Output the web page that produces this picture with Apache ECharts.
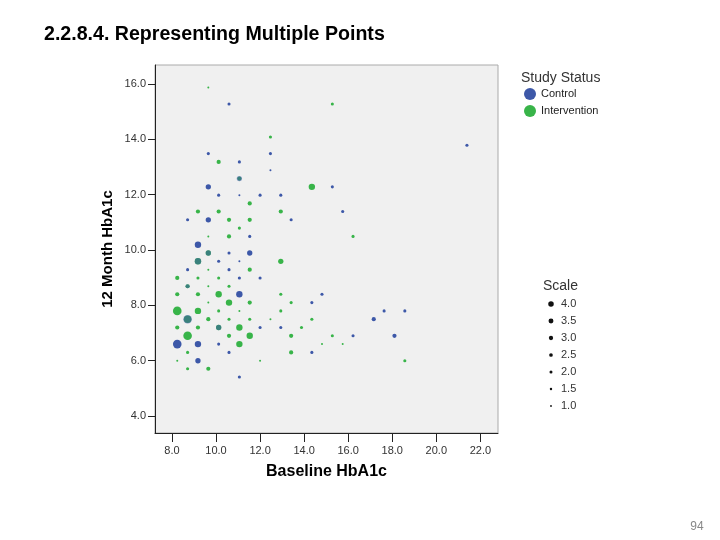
<!DOCTYPE html>
<html><head><meta charset="utf-8">
<script src="https://cdn.jsdelivr.net/npm/echarts@6/dist/echarts.min.js"></script>
<style>html,body{margin:0;padding:0;background:#fff}#c{width:720px;height:540px}</style>
</head><body><div id="c"></div>
<script>
// Tick labels
const xTicks = [8, 10, 12, 14, 16, 18, 20, 22];
const yTicks = [4, 6, 8, 10, 12, 14, 16];
const scaleLevels = [4.0, 3.5, 3.0, 2.5, 2.0, 1.5, 1.0];
const groups = ['Control', 'Intervention'];

// [Baseline HbA1c, 12 Month HbA1c, Scale]
const controlPoints = [
  [10.59,15.27,1.5],[9.65,13.48,1.5],[12.47,13.48,1.5],[11.06,13.18,1.5],[12.47,12.88,1],
  [11.06,12.58,2.5],[9.65,12.28,2.5],[15.28,12.28,1.5],[21.39,13.78,1.5],[10.12,11.98,1.5],
  [11.06,11.98,1],[12.00,11.98,1.5],[12.94,11.98,1.5],[15.75,11.39,1.5],[8.71,11.09,1.5],
  [9.65,11.09,2.5],[13.41,11.09,1.5],[11.53,10.49,1.5],[9.18,10.19,3],[9.65,9.89,2.5],
  [10.59,9.89,1.5],[11.53,9.89,2.5],[9.18,9.59,3],[10.12,9.59,1.5],[11.06,9.59,1],
  [8.71,9.29,1.5],[10.59,9.29,1.5],[11.06,8.99,1.5],[12.00,8.99,1.5],[8.71,8.69,2],
  [11.06,8.40,3],[14.81,8.40,1.5],[14.35,8.10,1.5],[17.63,7.80,1.5],[18.57,7.80,1.5],
  [8.71,7.50,4],[17.16,7.50,2],[10.12,7.20,2.5],[12.00,7.20,1.5],[12.94,7.20,1.5],
  [16.22,6.90,1.5],[18.10,6.90,2],[8.24,6.60,4],[9.18,6.60,3],[10.12,6.60,1.5],
  [10.59,6.30,1.5],[14.35,6.30,1.5],[9.18,6.00,2.5],[11.06,5.41,1.5]
];
const interventionPoints = [
  [9.65,15.87,1],[15.28,15.27,1.5],[12.47,14.08,1.5],[10.12,13.18,2],[11.06,12.58,2],
  [14.35,12.28,3],[11.53,11.68,2],[9.18,11.39,2],[10.12,11.39,2],[12.94,11.39,2],
  [10.59,11.09,2],[11.53,11.09,2],[11.06,10.79,1.5],[9.65,10.49,1],[10.59,10.49,2],
  [16.22,10.49,1.5],[9.65,9.89,2.5],[9.18,9.59,3],[12.94,9.59,2.5],[9.65,9.29,1],
  [11.53,9.29,2],[8.24,8.99,2],[9.18,8.99,1.5],[10.12,8.99,1.5],[8.71,8.69,2],
  [9.65,8.69,1],[10.59,8.69,1.5],[8.24,8.40,2],[9.18,8.40,2],[10.12,8.40,3],
  [12.94,8.40,1.5],[9.65,8.10,1],[10.59,8.10,3],[11.53,8.10,2],[13.41,8.10,1.5],
  [8.24,7.80,4],[9.18,7.80,3],[10.12,7.80,1.5],[11.06,7.80,1],[12.94,7.80,1.5],
  [8.71,7.50,3.5],[9.65,7.50,2],[10.59,7.50,1.5],[11.53,7.50,1.5],[12.47,7.50,1],
  [14.35,7.50,1.5],[8.24,7.20,2],[9.18,7.20,2],[10.12,7.20,2.5],[11.06,7.20,3],
  [13.88,7.20,1.5],[8.71,6.90,4],[10.59,6.90,2],[11.53,6.90,3],[13.41,6.90,2],
  [15.28,6.90,1.5],[11.06,6.60,3],[14.81,6.60,1],[15.75,6.60,1],[8.71,6.30,1.5],
  [13.41,6.30,2],[8.24,6.00,1],[12.00,6.00,1],[18.57,6.00,1.5],[8.71,5.71,1.5],
  [9.65,5.71,2]
];

const BLUE = '#3D58A8', GREEN = '#38B449';
const FONT = 'Liberation Sans, Arial, sans-serif';
function dotSize(s) { return 2 + 2.2 * (s - 1); }
function legendDot(s) { return 1.8 + 1.25 * (s - 1); }

const interKeys = new Set(interventionPoints.map(p => p[0] + ',' + p[1]));
const controlData = controlPoints.map(p => {
  const o = { value: p };
  if (interKeys.has(p[0] + ',' + p[1])) o.itemStyle = { opacity: 0.55 };
  return o;
});

const scaleGraphics = [{
  type: 'text', left: 543, top: 279,
  style: { text: 'Scale', fontSize: 14, fill: '#333', fontFamily: FONT }
}];
scaleLevels.forEach((s, i) => {
  const cy = 304 + 17 * i;
  scaleGraphics.push({
    type: 'circle', shape: { cx: 551, cy: cy, r: legendDot(s) / 2 },
    style: { fill: '#111' }
  });
  scaleGraphics.push({
    type: 'text', x: 561, y: cy,
    style: { text: s.toFixed(1), fontSize: 11, fill: '#333', fontFamily: FONT, verticalAlign: 'middle' }
  });
});
scaleGraphics.push({
  type: 'text', x: 697, y: 527,
  style: { text: '94', fontSize: 12, fill: '#888', fontFamily: FONT, align: 'center', verticalAlign: 'middle' }
});

const chart = echarts.init(document.getElementById('c'));
chart.setOption({
  animation: false,
  backgroundColor: '#fff',
  title: [
    { text: '2.2.8.4. Representing Multiple Points', left: 44, top: 25, padding: 0,
      textStyle: { fontSize: 19.6, fontWeight: 'bold', color: '#000', fontFamily: FONT } },
    { text: 'Study Status', left: 521, top: 71, padding: 0,
      textStyle: { fontSize: 14, fontWeight: 'normal', color: '#333', fontFamily: FONT } }
  ],
  legend: {
    data: groups, orient: 'vertical', left: 524, top: 88, padding: 0,
    itemWidth: 12, itemHeight: 12, itemGap: 5, icon: 'circle',
    textStyle: { fontSize: 11, color: '#222', fontFamily: FONT }
  },
  grid: {
    left: 155, top: 65, right: 222, bottom: 107, show: true,
    backgroundColor: '#F0F0F0', borderColor: '#aaa', borderWidth: 1
  },
  xAxis: {
    type: 'value', min: 7.23, max: 22.8,
    name: 'Baseline HbA1c', nameLocation: 'middle', nameGap: 31,
    nameTextStyle: { fontSize: 16, fontWeight: 'bold', color: '#000', fontFamily: FONT },
    axisLine: { show: true, onZero: false, lineStyle: { color: '#222', width: 1 } },
    axisTick: { show: true, length: 9, customValues: xTicks, lineStyle: { color: '#222' } },
    axisLabel: { customValues: xTicks, formatter: v => Number(v).toFixed(1), margin: 12,
      fontSize: 11, color: '#333', fontFamily: FONT },
    splitLine: { show: false }
  },
  yAxis: {
    type: 'value', min: 3.39, max: 16.68,
    name: '12 Month HbA1c', nameLocation: 'middle', nameGap: 40,
    nameTextStyle: { fontSize: 15, fontWeight: 'bold', color: '#000', fontFamily: FONT },
    axisLine: { show: true, onZero: false, lineStyle: { color: '#222', width: 1 } },
    axisTick: { show: true, length: 7, customValues: yTicks, lineStyle: { color: '#222' } },
    axisLabel: { customValues: yTicks, formatter: v => Number(v).toFixed(1), margin: 9,
      fontSize: 11, color: '#333', fontFamily: FONT },
    splitLine: { show: false }
  },
  graphic: scaleGraphics,
  series: [
    { name: 'Intervention', type: 'scatter', data: interventionPoints,
      symbolSize: v => dotSize(v[2]), itemStyle: { color: GREEN, opacity: 1 }, z: 2 },
    { name: 'Control', type: 'scatter', data: controlData,
      symbolSize: v => dotSize(v[2]), itemStyle: { color: BLUE, opacity: 1 }, z: 3 }
  ]
});
</script>
</body></html>
